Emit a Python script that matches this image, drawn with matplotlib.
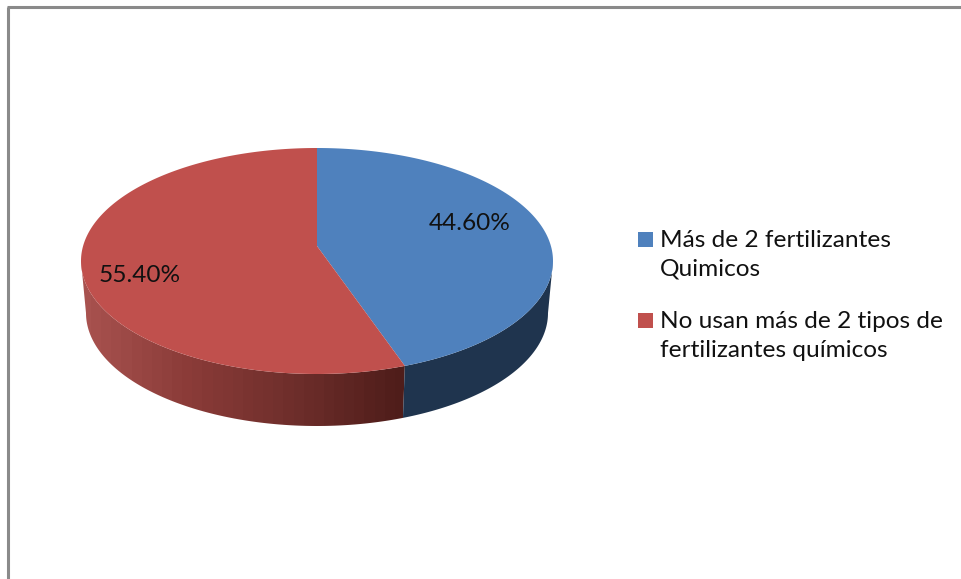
import numpy as np
import matplotlib
matplotlib.use("Agg")
import matplotlib.pyplot as plt
from matplotlib.colors import LinearSegmentedColormap
from matplotlib.patches import Polygon, Rectangle

labels = ["Más de 2 fertilizantes\nQuimicos", "No usan más de 2 tipos de\nfertilizantes químicos"]
shares = [44.60, 55.40]
value_labels = ["44.60%", "55.40%"]
top_colors = ["#4F81BD", "#C0504D"]

plt.rcParams['font.family'] = ['Lato', 'DejaVu Sans']

W, H = 961, 579
fig = plt.figure(figsize=(W / 100, H / 100), dpi=100)
ax = fig.add_axes([0, 0, 1, 1])
ax.axis("off")

# outer frame, only top and left are in the crop
ax.plot([8, 8], [H, 7], color="#8a8a8a", lw=2.2, solid_capstyle="butt", zorder=1)
ax.plot([7, W], [7, 7], color="#8a8a8a", lw=2.2, solid_capstyle="butt", zorder=1)

# top face and bottom rim of the tilted pie
cx, cy = 317, 261
rx, ry = 236, 113
apex_y = 246
bottom_cy, bottom_rx = 313, 231


def top_pt(a):
    return cx + rx * np.sin(a), cy - ry * np.cos(a)


def low_pt(a):
    return cx + bottom_rx * np.sin(a), bottom_cy - ry * np.cos(a)


# angles run clockwise from 12 o'clock; 0.985 is the perspective squeeze of the chart
split = np.deg2rad(shares[0] / sum(shares) * 360 * 0.985)

# side wall, red part is a left to right gradient clipped to the wall outline
a = np.linspace(split, 1.5 * np.pi, 200)
xt, yt = top_pt(a)
xl, yl = low_pt(a[::-1])
wall = Polygon(np.c_[np.r_[xt, xl], np.r_[yt, yl]], closed=True, transform=ax.transData,
               facecolor="none", edgecolor="none")
ax.add_patch(wall)
red_side = LinearSegmentedColormap.from_list("side", ["#A8524F", "#8A3B38", "#6E2E2B", "#4F1D1A"])
grad = ax.imshow(np.linspace(0, 1, 32).reshape(1, -1), cmap=red_side, aspect="auto",
                 extent=(81, xt[0], 430, 250), zorder=2, interpolation="nearest")
grad.set_clip_path(wall)

a = np.linspace(0.5 * np.pi, split, 80)
xt, yt = top_pt(a)
xl, yl = low_pt(a[::-1])
ax.fill(np.r_[xt, xl], np.r_[yt, yl], color="#1F344E", lw=0, zorder=2)

# top face
a = np.linspace(0, split, 150)
xt, yt = top_pt(a)
ax.fill(np.r_[cx, xt], np.r_[apex_y, yt], color=top_colors[0], lw=0, zorder=3)
a = np.linspace(split, 2 * np.pi, 250)
xt, yt = top_pt(a)
ax.fill(np.r_[cx, xt], np.r_[apex_y, yt], color=top_colors[1], lw=0, zorder=3)

ax.text(470, 224, value_labels[0], fontsize=17.6, color="#111111", ha="center", va="center", zorder=4)
ax.text(140, 276, value_labels[1], fontsize=17.6, color="#111111", ha="center", va="center", zorder=4)

# legend by hand: the key sits on the first line of each wrapped label
for label, color, box_y, text_y in zip(labels, top_colors, [232, 313], [255, 336]):
    ax.add_patch(Rectangle((638, box_y), 15, 15, facecolor=color, edgecolor="none"))
    ax.text(660, text_y, label, fontsize=17.6, color="#111111", ha="left", va="center",
            linespacing=1.45)

ax.set_xlim(0, W)
ax.set_ylim(H, 0)

fig.savefig("out.png", dpi=100)
